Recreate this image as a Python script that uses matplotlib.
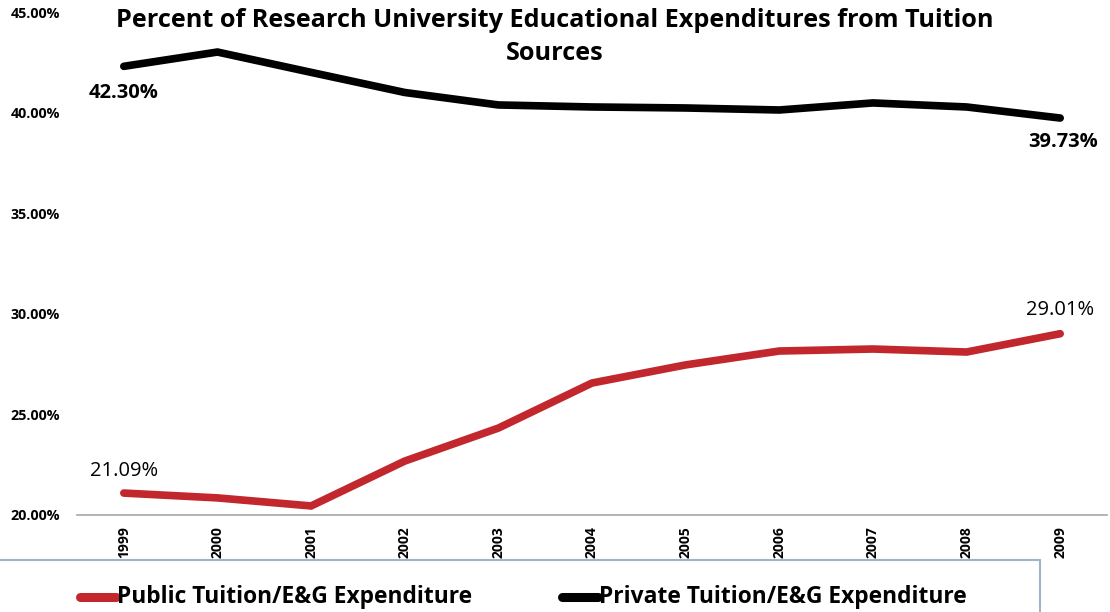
import matplotlib
matplotlib.use("Agg")
import matplotlib.pyplot as plt
from matplotlib.patches import Rectangle
from matplotlib.lines import Line2D

years = ["1999", "2000", "2001", "2002", "2003", "2004", "2005", "2006", "2007", "2008", "2009"]
public = [21.09, 20.85, 20.45, 22.68, 24.32, 26.56, 27.46, 28.15, 28.25, 28.10, 29.01]
private = [42.30, 43.01, 42.00, 41.00, 40.38, 40.28, 40.23, 40.13, 40.48, 40.28, 39.73]
yticks = [20, 25, 30, 35, 40, 45]
title = "Percent of Research University Educational Expenditures from Tuition\nSources"
public_name = "Public Tuition/E&G Expenditure"
private_name = "Private Tuition/E&G Expenditure"

RED = "#c1272d"
plt.rcParams['font.family'] = ['Open Sans', 'DejaVu Sans']

fig = plt.figure(figsize=(11.1, 6.12), dpi=100)
ax = fig.add_axes([77/1110, 1-515/612, 1030/1110, 503/612])
x = list(range(len(years)))
ax.plot(x, public, color=RED, lw=5.5, solid_capstyle='round', solid_joinstyle='miter')
ax.plot(x, private, color='black', lw=5.5, solid_capstyle='round', solid_joinstyle='miter')
ax.set_xlim(-0.5, len(years)-0.5)
ax.set_ylim(20, 45)
ax.set_yticks(yticks)
ax.set_yticklabels([f"{v:.2f}%" for v in yticks], fontsize=10.3, fontweight='bold')
ax.set_xticks(x)
ax.set_xticklabels(years, rotation=90, fontsize=10, fontweight='bold')
for s in ['top', 'right', 'left']:
    ax.spines[s].set_visible(False)
ax.spines['bottom'].set_color('#a6a6a6')
ax.spines['bottom'].set_linewidth(1.2)
ax.tick_params(axis='x', length=0, pad=8)
ax.tick_params(axis='y', length=0, pad=48)
for lab in ax.get_yticklabels():
    lab.set_horizontalalignment('left')

ax.annotate(f"{private[0]:.2f}%", (x[0], private[0]), xytext=(0, -19), textcoords='offset points',
            ha='center', va='center', fontsize=14.5, fontweight='bold')
ax.annotate(f"{private[-1]:.2f}%", (x[-1], private[-1]), xytext=(2, -17), textcoords='offset points',
            ha='center', va='center', fontsize=14.5, fontweight='bold')
ax.annotate(f"{public[0]:.2f}%", (x[0], public[0]), xytext=(0, 16), textcoords='offset points',
            ha='center', va='center', fontsize=14.5)
ax.annotate(f"{public[-1]:.2f}%", (x[-1], public[-1]), xytext=(0, 17), textcoords='offset points',
            ha='center', va='center', fontsize=14.5)

fig.text(555/1110, 1-37/612, title, ha='center', va='center', fontsize=18.2, fontweight='bold',
         linespacing=1.4)

# legend box
fig.patches.append(Rectangle((-0.01, -0.1), 1051/1110, (612-560)/612 + 0.1, transform=fig.transFigure,
                             fill=False, edgecolor='#9db5cc', lw=1.5))
ly = 1 - 597/612
fig.lines.append(Line2D([80/1110, 116/1110], [ly, ly], color=RED, lw=6.5, solid_capstyle='round',
                        transform=fig.transFigure))
fig.text(117/1110, ly, public_name, ha='left', va='center', fontsize=16.4, fontweight='bold')
fig.lines.append(Line2D([562/1110, 598/1110], [ly, ly], color='black', lw=6.5, solid_capstyle='round',
                        transform=fig.transFigure))
fig.text(599/1110, ly, private_name, ha='left', va='center', fontsize=16.4, fontweight='bold')

fig.savefig("out.png", dpi=100)
